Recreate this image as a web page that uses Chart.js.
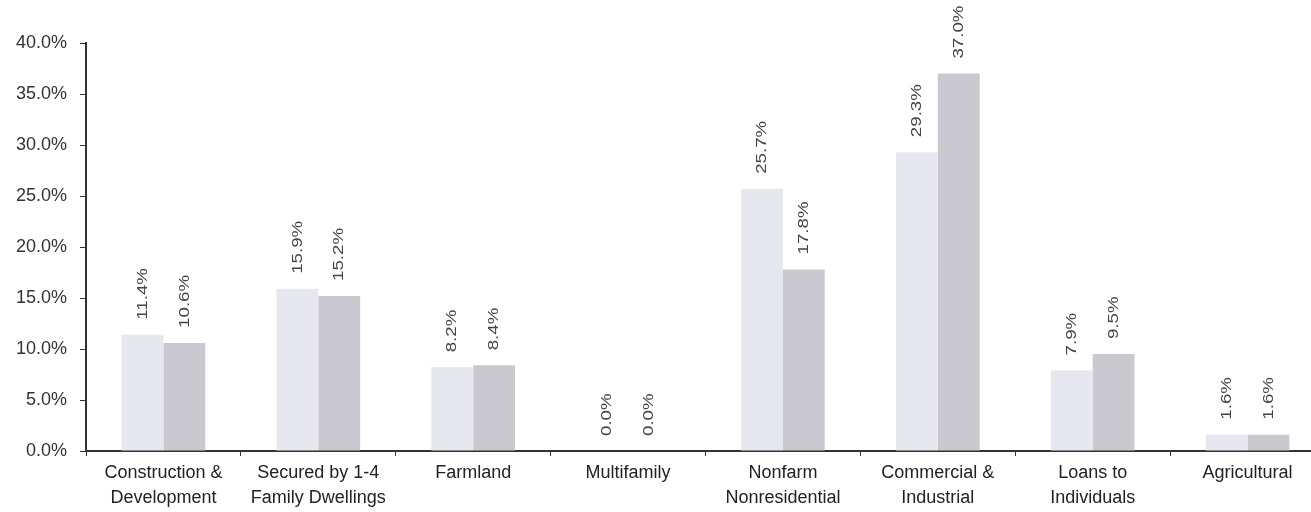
<!DOCTYPE html>
<html>
<head>
<meta charset="utf-8">
<script src="https://cdn.jsdelivr.net/npm/chart.js@4.4.0/dist/chart.umd.min.js"></script>
<style>
  html, body { margin: 0; padding: 0; background: #ffffff; overflow: hidden; }
  #wrap { position: relative; width: 1340px; height: 512px; }
</style>
</head>
<body>
<div id="wrap"><canvas id="c"></canvas></div>
<script>
const categories = [
  ["Construction &", "Development"],
  ["Secured by 1-4", "Family Dwellings"],
  ["Farmland"],
  ["Multifamily"],
  ["Nonfarm", "Nonresidential"],
  ["Commercial &", "Industrial"],
  ["Loans to", "Individuals"],
  ["Agricultural"]
];
const seriesA = [11.4, 15.9, 8.2, 0.0, 25.7, 29.3, 7.9, 1.6];
const seriesB = [10.6, 15.2, 8.4, 0.0, 17.8, 37.0, 9.5, 1.6];
const yTicks = [0, 5, 10, 15, 20, 25, 30, 35, 40];

const valueLabels = {
  id: 'valueLabels',
  afterDatasetsDraw(chart) {
    const ctx = chart.ctx;
    ctx.save();
    ctx.font = '17px "Liberation Sans", Arial, sans-serif';
    ctx.fillStyle = '#444444';
    ctx.textAlign = 'left';
    ctx.textBaseline = 'middle';
    chart.data.datasets.forEach((ds, di) => {
      const meta = chart.getDatasetMeta(di);
      meta.data.forEach((bar, i) => {
        const v = ds.data[i];
        ctx.save();
        ctx.translate(bar.x, bar.y - 15);
        ctx.rotate(-Math.PI / 2);
        ctx.scale(1.1, 0.9);
        ctx.fillText(v.toFixed(1) + '%', 0, 0);
        ctx.restore();
      });
    });
    ctx.restore();
  }
};

new Chart(document.getElementById('c'), {
  type: 'bar',
  data: {
    labels: categories,
    datasets: [
      { data: seriesA, backgroundColor: '#e7e7ef', categoryPercentage: 0.54, barPercentage: 1.0 },
      { data: seriesB, backgroundColor: '#c9c9cf', categoryPercentage: 0.54, barPercentage: 1.0 }
    ]
  },
  options: {
    responsive: true,
    maintainAspectRatio: false,
    animation: false,
    layout: { padding: { left: 0, right: 15, top: 43, bottom: 0 } },
    plugins: { legend: { display: false }, tooltip: { enabled: false } },
    scales: {
      x: {
        afterFit(scale) { scale.height = 61; },
        grid: { display: true, drawOnChartArea: false, offset: true, tickLength: 5, color: '#333333', lineWidth: 1 },
        border: { display: true, color: '#333333', width: 2 },
        ticks: {
          color: '#222222',
          font: { family: '"Liberation Sans", Arial, sans-serif', size: 18, lineHeight: 1.4 },
          padding: 4,
          maxRotation: 0, autoSkip: false
        }
      },
      y: {
        min: 0, max: 40,
        afterFit(scale) { scale.width = 86; },
        afterBuildTicks(scale) { scale.ticks = yTicks.map(v => ({ value: v })); },
        grid: { display: true, drawOnChartArea: false, tickLength: 6, color: '#333333', lineWidth: 1 },
        border: { display: true, color: '#333333', width: 2 },
        ticks: {
          color: '#333333',
          font: { family: '"Liberation Sans", Arial, sans-serif', size: 18 },
          padding: 13,
          callback: v => Number(v).toFixed(1) + '%'
        }
      }
    }
  },
  plugins: [valueLabels]
});
</script>
</body>
</html>
